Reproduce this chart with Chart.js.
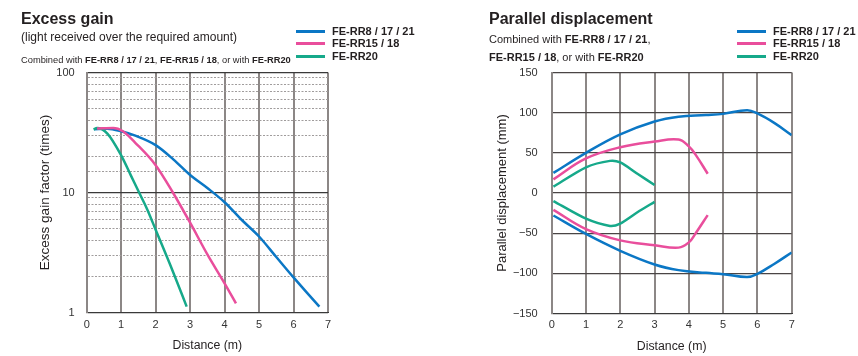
<!DOCTYPE html>
<html>
<head>
<meta charset="utf-8">
<script src="https://cdn.jsdelivr.net/npm/chart.js@4/dist/chart.umd.min.js"></script>
<style>
  body { margin: 0; background: #fff; }
  #wrap { position: relative; width: 858px; height: 356px; font-family: "Liberation Sans", Arial, sans-serif; color: #231f20; overflow: hidden; }
  canvas { position: absolute; top: 0; }
  .t { position: absolute; white-space: nowrap; }
  .title { font-weight: bold; font-size: 16px; line-height: 20px; }
  .leg { position: absolute; white-space: nowrap; font-size: 11px; font-weight: bold; line-height: 13px; height: 13px; }
  .leg i { position: absolute; left: 0; top: 5px; width: 29px; height: 3px; }
  .leg span { position: absolute; left: 36px; top: 0; }
</style>
</head>
<body>
<div id="wrap">
  <canvas id="gainChart" width="430" height="356" style="left:0"></canvas>
  <canvas id="dispChart" width="428" height="356" style="left:430px"></canvas>

  <div class="t title" style="left:21px; top:9px">Excess gain</div>
  <div class="t" style="left:21px; top:30px; font-size:12px; line-height:14px">(light received over the required amount)</div>
  <div class="t" style="left:21px; top:54px; font-size:9.3px; line-height:12px">Combined with <b>FE-RR8 / 17 / 21</b>, <b>FE-RR15 / 18</b>, or with <b>FE-RR20</b></div>

  <div class="t title" style="left:489px; top:9px">Parallel displacement</div>
  <div class="t" style="left:489px; top:32px; font-size:11px; line-height:14px">Combined with <b>FE-RR8 / 17 / 21</b>,</div>
  <div class="t" style="left:489px; top:50px; font-size:11px; line-height:14px"><b>FE-RR15 / 18</b>, or with <b>FE-RR20</b></div>

  <div id="legLeft"></div>
  <div id="legRight"></div>
</div>

<script>
// series
const seriesNames = ['FE-RR8 / 17 / 21', 'FE-RR15 / 18', 'FE-RR20'];
const seriesColors = ['#0b77c5', '#e94e9c', '#16a98a'];

// excess gain (times) vs distance (m)
const gainDistRR8 = [0.22, 0.6, 1.0, 1.43, 2.0, 2.52, 3.0, 3.5, 4.0, 4.5, 5.0, 5.5, 6.0, 6.4, 6.75];
const gainRR8 = [33.7, 34.0, 32.4, 29.6, 24.8, 18.8, 14.0, 10.9, 8.3, 5.9, 4.3, 2.9, 1.96, 1.45, 1.12];
const gainDistRR15 = [0.3, 0.77, 1.05, 1.43, 2.0, 2.5, 3.0, 3.5, 4.0, 4.33];
const gainRR15 = [34.1, 34.5, 32.4, 25.6, 16.9, 10.0, 5.6, 3.05, 1.75, 1.19];
const gainDistRR20 = [0.2, 0.3, 0.6, 1.0, 1.28, 1.52, 1.75, 2.0, 2.5, 2.9];
const gainRR20 = [33.5, 34.5, 31, 20.4, 13.9, 10, 7.3, 4.9, 2.2, 1.12];

// parallel displacement (mm) vs distance (m)
const dispDistRR8 = [0.05, 1, 2, 3, 3.7, 4.5, 5, 5.7, 6, 6.5, 7];
const dispUpperRR8 = [25, 50, 73, 89, 95, 97, 98.5, 103, 99, 87, 72];
const dispLowerRR8 = [-28, -51, -72, -89, -96, -99.4, -101, -104.7, -100.7, -88, -74];
const dispDistRR15 = [0.05, 1, 2, 3, 3.7, 4.0, 4.2, 4.55];
const dispUpperRR15 = [17, 43, 57, 64, 66.5, 58, 47.5, 24];
const dispLowerRR15 = [-21, -45, -59, -65, -68, -61.5, -50, -27.5];
const dispDistRR20 = [0.05, 1, 1.7, 2, 2.5, 3];
const dispUpperRR20 = [8, 32, 40, 38, 24, 10];
const dispLowerRR20 = [-10, -32, -41, -38, -24, -11];

const gainTickLabels = [1, 10, 100];
const FONT = '"Liberation Sans", Arial, sans-serif';

function pts(xs, ys) {
    return xs.map((x, i) => ({ x: x, y: ys[i] }));
}

function line(xs, ys, color, tension) {
    const ds = {
        data: pts(xs, ys),
        borderColor: color,
        borderWidth: 2.5,
        pointRadius: 0,
        fill: false,
    };
    if (tension === 'monotone') {
        ds.cubicInterpolationMode = 'monotone';
    } else {
        ds.tension = tension;
    }
    return ds;
}

function distanceAxis(height, tickPad, titlePad) {
    return {
        type: 'linear',
        min: 0,
        max: 7,
        ticks: { stepSize: 1, color: '#333', padding: tickPad, font: { family: FONT, size: 11 } },
        grid: { color: '#8c8786', lineWidth: 2, drawTicks: false },
        border: { color: '#3a3a3a', width: 1 },
        title: {
            display: true, text: 'Distance (m)', color: '#231f20',
            font: { family: FONT, size: 12.3 }, padding: { top: 0, bottom: titlePad },
        },
        afterFit(scale) { scale.height = height; },
    };
}

// legends
[['legLeft', 296], ['legRight', 737]].forEach(([id, left]) => {
    const box = document.getElementById(id);
    seriesNames.forEach((name, i) => {
        const row = document.createElement('div');
        row.className = 'leg';
        row.style.left = left + 'px';
        row.style.top = (24.5 + i * 12.7) + 'px';
        row.innerHTML = '<i style="background:' + seriesColors[i] + '"></i><span>' + name + '</span>';
        box.appendChild(row);
    });
});

new Chart(document.getElementById('gainChart'), {
    type: 'line',
    data: {
        datasets: [
            line(gainDistRR15, gainRR15, seriesColors[1], 'monotone'),
            line(gainDistRR20, gainRR20, seriesColors[2], 'monotone'),
            line(gainDistRR8, gainRR8, seriesColors[0], 'monotone'),
        ],
    },
    options: {
        responsive: false,
        animation: false,
        layout: { padding: { left: 0, right: 102, top: 72.5, bottom: 0 } },
        plugins: { legend: { display: false }, tooltip: { enabled: false } },
        scales: {
            x: distanceAxis(43.5, 6, 3),
            y: {
                type: 'logarithmic',
                min: 1,
                max: 100,
                ticks: {
                    autoSkip: false,
                    color: '#333',
                    padding: 12,
                    font: { family: FONT, size: 11 },
                    callback: (v) => gainTickLabels.includes(v) ? String(v) : '',
                },
                grid: {
                    drawTicks: false,
                    color: (ctx) => gainTickLabels.includes(ctx.tick && ctx.tick.value) ? '#3a3a3a' : '#a09c9c',
                    lineWidth: (ctx) => gainTickLabels.includes(ctx.tick && ctx.tick.value) ? 1.2 : 1,
                },
                border: {
                    color: '#8c8786',
                    width: 2,
                    dash: (ctx) => gainTickLabels.includes(ctx.tick && ctx.tick.value) ? [] : [2, 1.5],
                },
                title: {
                    display: true, text: 'Excess gain factor (times)', color: '#231f20',
                    font: { family: FONT, size: 13.5 }, padding: { top: 37, bottom: 0 },
                },
                afterFit(scale) { scale.width = 86.7; },
            },
        },
    },
});

new Chart(document.getElementById('dispChart'), {
    type: 'line',
    data: {
        datasets: [
            line(dispDistRR15, dispUpperRR15, seriesColors[1], 0.4),
            line(dispDistRR15, dispLowerRR15, seriesColors[1], 0.4),
            line(dispDistRR20, dispUpperRR20, seriesColors[2], 0.25),
            line(dispDistRR20, dispLowerRR20, seriesColors[2], 0.25),
            line(dispDistRR8, dispUpperRR8, seriesColors[0], 0.4),
            line(dispDistRR8, dispLowerRR8, seriesColors[0], 0.4),
        ],
    },
    options: {
        responsive: false,
        animation: false,
        layout: { padding: { left: 0, right: 66.3, top: 72.5, bottom: 0 } },
        plugins: { legend: { display: false }, tooltip: { enabled: false } },
        scales: {
            x: distanceAxis(42.5, 5, 2),
            y: {
                type: 'linear',
                min: -150,
                max: 150,
                ticks: {
                    stepSize: 50,
                    color: '#333',
                    padding: 14,
                    font: { family: FONT, size: 11 },
                    callback: (v) => String(v).replace('-', '\u2212'),
                },
                grid: { drawTicks: false, color: '#4a4545', lineWidth: 1.3 },
                border: { color: '#8c8786', width: 2 },
                title: {
                    display: true, text: 'Parallel displacement (mm)', color: '#231f20',
                    font: { family: FONT, size: 13 }, padding: { top: 65, bottom: 0 },
                },
                afterFit(scale) { scale.width = 121.7; },
            },
        },
    },
});
</script>
</body>
</html>
